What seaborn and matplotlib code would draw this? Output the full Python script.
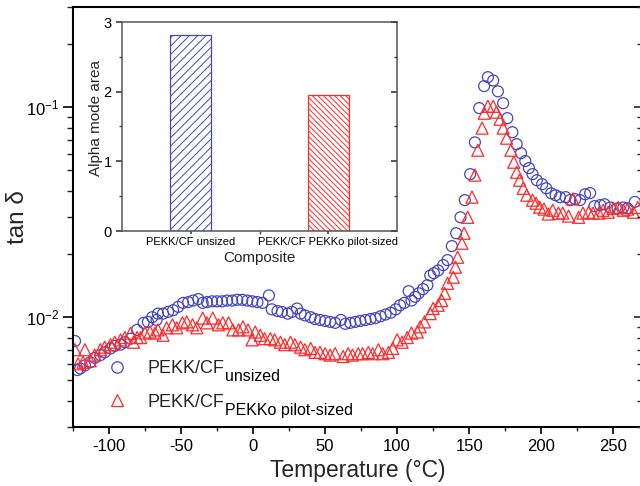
import numpy as np
import pandas as pd
import matplotlib
matplotlib.use("Agg")
import matplotlib.pyplot as plt
import matplotlib.ticker as mticker
from matplotlib.lines import Line2D
import seaborn as sns

# ---------------- data ----------------
temp_unsized = [-123.6, -122, -120, -116.7, -113, -110, -106, -103, -99, -96, -92, -89, -85,
                -80.5, -76, -73, -70, -67, -66, -62.5, -59, -55.5, -52, -48.6, -45, -41.7, -38,
                -35, -32, -28.5, -25, -21.5, -18, -14.5, -11, -7.5, -4, -0.5, 3, 6.5, 11, 13,
                17, 20, 24, 27, 30.5, 33, 36, 40, 43, 46.5, 50, 53.5, 57, 61, 64, 67.5, 71,
                74.5, 78, 81.5, 85, 88.5, 92, 95.5, 99, 102, 105, 108, 110, 112.5, 115, 118,
                121, 123, 125.5, 128.5, 132, 135, 138, 141, 144, 147, 150.7, 154, 157, 160.4,
                163, 166.7, 170, 173.6, 176.5, 180, 183, 186, 189, 191.5, 194, 197, 200.7,
                203.5, 207, 210, 213, 217, 220, 223.6, 227, 230.5, 234, 237, 241, 244, 248,
                253, 257, 260, 265]
tan_unsized = [0.0077, 0.0056, 0.0057, 0.0059, 0.0061, 0.0064, 0.0066, 0.0068, 0.0071, 0.0073,
               0.0074, 0.0076, 0.0079, 0.0087, 0.0094, 0.0095, 0.0100, 0.0097, 0.0104, 0.0104,
               0.0106, 0.0108, 0.0112, 0.0117, 0.0118, 0.0120, 0.0122, 0.0117, 0.0118, 0.0119,
               0.0119, 0.0119, 0.0120, 0.0120, 0.0121, 0.0121, 0.0120, 0.0119, 0.0118, 0.0117,
               0.0127, 0.0109, 0.0107, 0.0106, 0.0104, 0.0106, 0.0110, 0.0104, 0.0102, 0.0100,
               0.0098, 0.0097, 0.0096, 0.0095, 0.0094, 0.0097, 0.0093, 0.0094, 0.0095, 0.0096,
               0.0097, 0.0098, 0.0099, 0.0101, 0.0103, 0.0105, 0.0109, 0.0114, 0.0117, 0.0133,
               0.0120, 0.0125, 0.0130, 0.0136, 0.0142, 0.0158, 0.0162, 0.0167, 0.0177, 0.0187,
               0.0218, 0.0251, 0.0299, 0.0361, 0.048, 0.068, 0.099, 0.126, 0.139, 0.134, 0.119,
               0.1045, 0.0887, 0.076, 0.0667, 0.0604, 0.0554, 0.0513, 0.048, 0.0449, 0.043,
               0.0411, 0.0389, 0.0381, 0.0373, 0.0373, 0.0361, 0.0365, 0.0361, 0.0385, 0.039,
               0.0338, 0.0342, 0.0345, 0.0333, 0.0330, 0.0333, 0.0330, 0.0354]

temp_sized = [-123.6, -121.5, -118, -116.7, -113, -110, -106, -103, -99, -96, -92, -89, -85,
              -83, -80.5, -78, -75, -71.5, -68, -66, -62.5, -60, -56, -53, -49, -46, -42, -39,
              -35, -32, -28, -24, -21, -17, -14, -10, -7, -3.5, -0.7, 1.5, 5, 8, 12, 15, 19,
              22, 26, 29, 33, 36, 40, 43, 46.5, 50, 53.5, 57, 62.5, 66, 69, 73, 76, 80, 83, 87,
              90, 94, 97, 100, 103.5, 107, 110, 114, 116, 119, 123, 125, 128.5, 131, 133, 135,
              139, 140.5, 142, 145, 146.5, 149, 152, 154, 156, 159, 160.5, 163, 166.7, 169,
              171.5, 173.6, 176, 179, 181, 183, 185, 187.5, 190, 194, 196.5, 199, 202, 205,
              208, 212, 215, 219, 222, 226, 229, 233, 236, 240, 243, 246.5, 250, 253.5, 257,
              260, 264, 267]
tan_sized = [0.0070, 0.0060, 0.0061, 0.0070, 0.0062, 0.0066, 0.0070, 0.0072, 0.0074, 0.0076,
             0.0078, 0.0080, 0.0084, 0.0076, 0.0080, 0.0080, 0.0084, 0.0085, 0.0084, 0.0087,
             0.0082, 0.0089, 0.0092, 0.0089, 0.0094, 0.0095, 0.0092, 0.0089, 0.0099, 0.0094,
             0.0099, 0.0092, 0.0094, 0.0094, 0.0087, 0.0087, 0.0090, 0.0087, 0.0078, 0.0085,
             0.0082, 0.0079, 0.0079, 0.0078, 0.0076, 0.0074, 0.0076, 0.0074, 0.0072, 0.0070,
             0.0071, 0.0068, 0.0068, 0.0067, 0.0066, 0.0067, 0.0065, 0.0067, 0.0066, 0.0067,
             0.0067, 0.0068, 0.0067, 0.0070, 0.0067, 0.0068, 0.0071, 0.0078, 0.0076, 0.0080,
             0.0084, 0.0085, 0.0090, 0.0095, 0.0104, 0.0110, 0.0114, 0.0120, 0.0130, 0.0145,
             0.0155, 0.0173, 0.0193, 0.0225, 0.0251, 0.0299, 0.0373, 0.0475, 0.0624, 0.0795,
             0.0936, 0.101, 0.101, 0.0947, 0.0877, 0.0795, 0.0712, 0.0624, 0.0547, 0.049,
             0.0449, 0.0411, 0.0381, 0.0361, 0.0349, 0.0334, 0.0327, 0.0310, 0.0323, 0.0313,
             0.0313, 0.0303, 0.0366, 0.0299, 0.0313, 0.0316, 0.0313, 0.0313, 0.0323, 0.0316,
             0.0330, 0.0333, 0.0323, 0.0327, 0.0316, 0.0333]

series_labels = ["PEKK/CF", "PEKK/CF"]
series_subscripts = ["unsized", "PEKKo pilot-sized"]

composites = ["PEKK/CF unsized", "PEKK/CF PEKKo pilot-sized"]
alpha_area = [2.82, 1.95]

x_ticks = [-100, -50, 0, 50, 100, 150, 200, 250]

# ---------------- style ----------------
sns.set_theme(style="ticks")
plt.rcParams["font.family"] = ["Liberation Sans", "DejaVu Sans"]
plt.rcParams["mathtext.fontset"] = "custom"
plt.rcParams["mathtext.rm"] = "Liberation Sans"
plt.rcParams["mathtext.it"] = "Liberation Sans:italic"
plt.rcParams["mathtext.bf"] = "Liberation Sans:bold"
plt.rcParams["hatch.linewidth"] = 0.7
plt.rcParams["axes.unicode_minus"] = False

BLUE = "#4646BE"
RED = "#FF2A2A"

fig = plt.figure(figsize=(6.4, 4.86), dpi=100)
W, H = 640, 486
ax = fig.add_axes([73 / W, (H - 427) / H, 569 / W, 420 / H])

sns.scatterplot(x=temp_unsized, y=tan_unsized, ax=ax, marker="o", s=62,
                color=BLUE, facecolor="none", edgecolor=BLUE, linewidth=0.9)
sns.scatterplot(x=temp_sized, y=tan_sized, ax=ax, marker="^", s=75,
                color=RED, facecolor="none", edgecolor=RED, linewidth=0.9)

ax.set_yscale("log")
ax.set_ylim(0.003, 0.3)
ax.set_xlim(-125, 270)
ax.set_xticks(x_ticks)
ax.xaxis.set_minor_locator(mticker.MultipleLocator(25))
ax.yaxis.set_minor_formatter(mticker.NullFormatter())
for s in ["left", "top", "bottom"]:
    ax.spines[s].set_linewidth(1.5)
    ax.spines[s].set_color("black")
ax.spines["right"].set_visible(False)
ax.tick_params(axis="both", which="major", labelsize=12, colors="black", width=1.2)
ax.tick_params(axis="y", which="major", length=7, direction="out", pad=3)
ax.tick_params(axis="y", which="minor", length=4, width=1.0, direction="out")
ax.tick_params(axis="x", which="major", length=5, direction="out")
ax.tick_params(axis="x", which="minor", length=3, width=1.0, direction="out")
ax.set_xlabel("Temperature (°C)", fontsize=16.5, labelpad=4)
ax.set_ylabel("tan δ", fontsize=17.5)
ax.yaxis.set_label_coords(-0.078, 0.5)

# right-side inward ticks
ax_r = ax.twinx()
ax_r.set_yscale("log")
ax_r.set_ylim(0.003, 0.3)
ax_r.yaxis.set_minor_formatter(mticker.NullFormatter())
ax_r.tick_params(axis="y", which="major", direction="in", length=6, width=1.2, labelright=False)
ax_r.tick_params(axis="y", which="minor", direction="in", length=3.5, width=1.0, labelright=False)
for s in ax_r.spines.values():
    s.set_visible(False)

# legend
handles = [
    Line2D([], [], ls="none", marker="o", ms=8.2, mfc="none", mec=BLUE, mew=0.9),
    Line2D([], [], ls="none", marker="^", ms=9.2, mfc="none", mec=RED, mew=0.9),
]
leg = ax.legend(handles, series_labels, loc="upper left", bbox_to_anchor=(0.045, 0.176),
                frameon=False, fontsize=13, handletextpad=1.1, handlelength=1.2,
                labelspacing=0.9, borderaxespad=0.0)

# ---------------- inset ----------------
axins = fig.add_axes([122 / W, (H - 231) / H, 275 / W, 209 / H])
sns.barplot(x=composites, y=alpha_area, hue=composites, palette=[BLUE, RED],
            width=0.3, ax=axins, legend=False, saturation=1)
hatches = ["////", "\\\\\\\\\\\\"]
edge_cols = [BLUE, RED]
for patch, h, c in zip(axins.patches, hatches, edge_cols):
    patch.set_facecolor("white")
    patch.set_edgecolor(c)
    patch.set_hatch(h)
    patch.set_linewidth(0.9)
axins.set_xlim(-0.5, 1.5)
axins.set_ylim(0, 3)
axins.set_yticks([0, 1, 2, 3])
axins.yaxis.set_minor_locator(mticker.MultipleLocator(0.5))
axins.xaxis.set_minor_locator(mticker.FixedLocator([0.5]))
axins.set_xlabel("Composite", fontsize=11, labelpad=3)
axins.set_ylabel("Alpha mode area", fontsize=11)
axins.yaxis.set_label_coords(-0.07, 0.54)
axins.tick_params(axis="y", which="major", labelsize=10.5, length=4, direction="out", colors="#444444", labelcolor="black")
axins.tick_params(axis="y", which="minor", length=2.5, direction="out", colors="#444444")
axins.tick_params(axis="x", which="major", labelsize=8, length=2.5, direction="out", pad=2, colors="#444444", labelcolor="black")
axins.tick_params(axis="x", which="minor", length=2.5, direction="out", colors="#444444")
for s in axins.spines.values():
    s.set_color("#555555")
    s.set_linewidth(1.1)
axins_r = axins.twinx()
axins_r.set_ylim(0, 3)
axins_r.set_yticks([0, 1, 2, 3])
axins_r.yaxis.set_minor_locator(mticker.MultipleLocator(0.5))
axins_r.tick_params(axis="y", which="major", direction="in", length=4, labelright=False, colors="#444444")
axins_r.tick_params(axis="y", which="minor", direction="in", length=2.5, labelright=False, colors="#444444")
for s in axins_r.spines.values():
    s.set_visible(False)

# subscripts of legend labels
fig.canvas.draw()
renderer = fig.canvas.get_renderer()
for txt, sub in zip(leg.get_texts(), series_subscripts):
    bb = txt.get_window_extent(renderer)
    fig.text((bb.x1 + 1) / W, (bb.y0 - 7) / H, sub, fontsize=11.5, ha="left", va="bottom",
             color="black")

fig.savefig("out.png", dpi=100)
